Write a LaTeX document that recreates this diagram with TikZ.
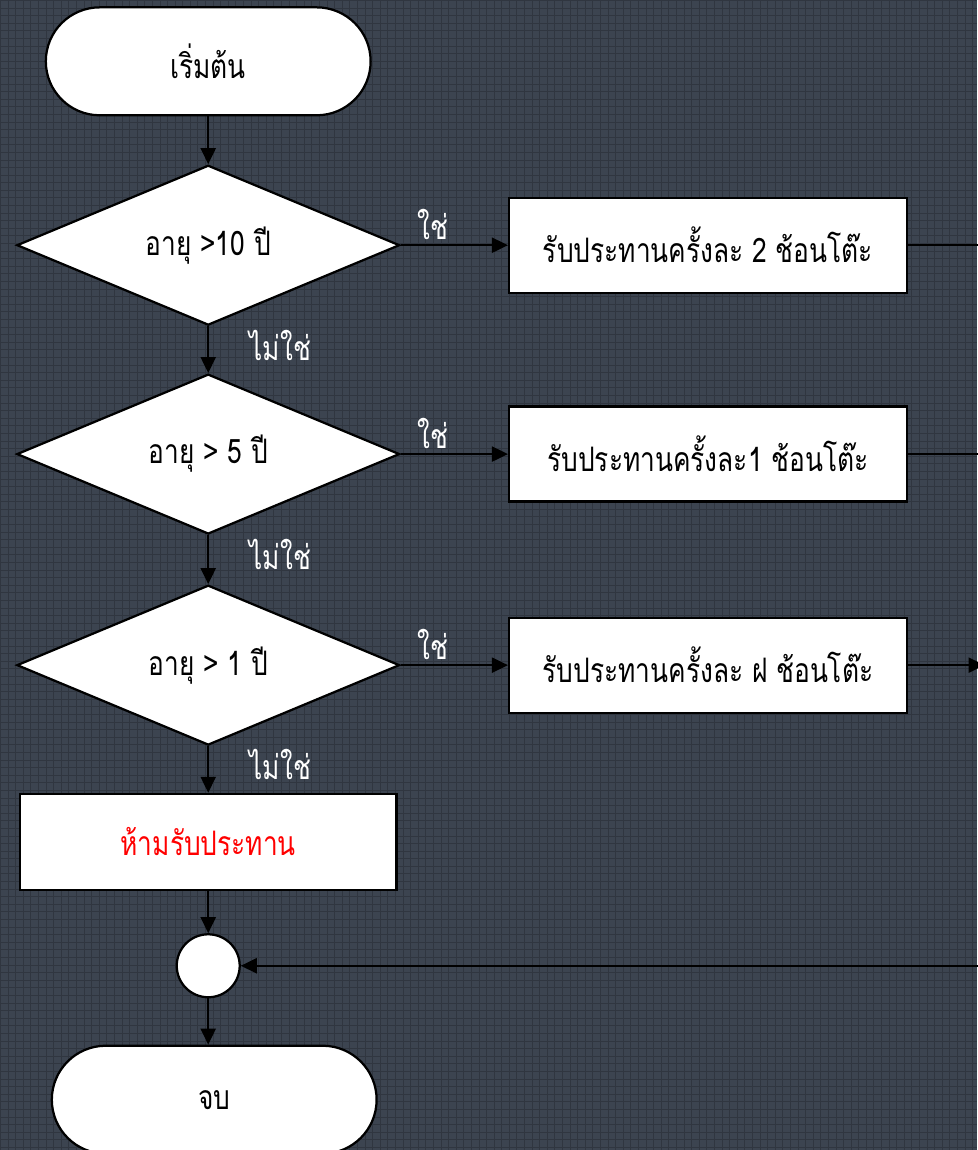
\documentclass[tikz,border=0pt]{standalone}
\usepackage{fontspec}
\newfontfamily\thaifont[Script=Thai,FakeStretch=0.78]{Loma}
\usetikzlibrary{arrows.meta,shapes.geometric,positioning}
\definecolor{boardbg}{RGB}{60,68,80}
\definecolor{boardgrid}{RGB}{48,54,64}
\definecolor{stopred}{RGB}{255,0,0}

\begin{document}
\begin{tikzpicture}[>={Triangle[length=0.4cm,width=0.38cm]},
  font=\thaifont\fontsize{24}{28}\selectfont,
  terminal/.style={draw=black, line width=1.6pt, fill=white,
    rounded corners=1.35cm, minimum width=8.125cm, minimum height=2.7cm},
  decision/.style={diamond, aspect=2.4, draw=black, line width=1.6pt,
    fill=white, inner sep=0pt, minimum width=9.575cm, minimum height=4cm},
  process/.style={rectangle, draw=black, line width=1.6pt, fill=white,
    minimum width=9.95cm, minimum height=2.375cm},
  flow/.style={->, line width=1.1pt, black},
  answer/.style={text=white}]

  %% ── Board background ────────────────────────────────────────────
  \fill[boardbg] (0,0) rectangle (24.425,-28.75);
  \draw[boardgrid, line width=0.5pt] (0,-28.75) grid[step=0.19cm] (24.425,0);
  \useasboundingbox (0,0) rectangle (24.425,-28.75);

  %% ── Main column ─────────────────────────────────────────────────
  \node[terminal] (start) at (5.2,-1.525) {เริ่มต้น};
  \node[decision] (age10) at (5.2,-6.125) {อายุ >10 ปี};
  \node[decision] (age5) at (5.2,-11.35) {อายุ > 5 ปี};
  \node[decision] (age1) at (5.2,-16.63) {อายุ > 1 ปี};
  \node[process, minimum width=9.425cm, minimum height=2.4cm, text=stopred]
    (nodose) at (5.2,-21.05) {ห้ามรับประทาน};
  \node[circle, draw=black, fill=white, line width=1.6pt, minimum size=1.575cm]
    (merge) at (5.2,-24.15) {};
  \node[terminal] (stop) at (5.35,-27.5) {จบ};

  %% ── Dose boxes ──────────────────────────────────────────────────
  \node[process] (dose2) at (17.7,-6.125) {รับประทานครั้งละ 2 ช้อนโต๊ะ};
  \node[process] (dose1) at (17.7,-11.35) {รับประทานครั้งละ1 ช้อนโต๊ะ};
  \node[process] (dosehalf) at (17.7,-16.63) {รับประทานครั้งละ ฝ ช้อนโต๊ะ};

  % return rail on the right
  \coordinate (rail) at (24.62,-6.125);

  %% ── Connectors ──────────────────────────────────────────────────
  \draw[flow] (start) -- (age10);
  \draw[flow] (age10) -- node[answer, pos=0.4, right=0.9cm] {ไม่ใช่} (age5);
  \draw[flow] (age5) -- node[answer, pos=0.4, right=0.9cm] {ไม่ใช่} (age1);
  \draw[flow] (age1) -- node[answer, pos=0.4, right=0.9cm] {ไม่ใช่} (nodose);
  \draw[flow] (nodose) -- (merge);
  \draw[flow] (merge) -- (merge |- stop.north);

  \draw[flow] (age10) -- node[answer, pos=0.3, above] {ใช่} (dose2);
  \draw[flow] (age5) -- node[answer, pos=0.3, above] {ใช่} (dose1);
  \draw[flow] (age1) -- node[answer, pos=0.3, above] {ใช่} (dosehalf);

  \draw[line width=1.1pt] (dose2) -- (rail);
  \draw[line width=1.1pt] (dose1) -- (dose1 -| rail);
  \draw[flow] (dosehalf) -- (dosehalf -| rail);
  \draw[line width=1.1pt] (rail) -- (rail |- merge);
  \draw[flow] (rail |- merge) -- (merge);

\end{tikzpicture}
\end{document}
